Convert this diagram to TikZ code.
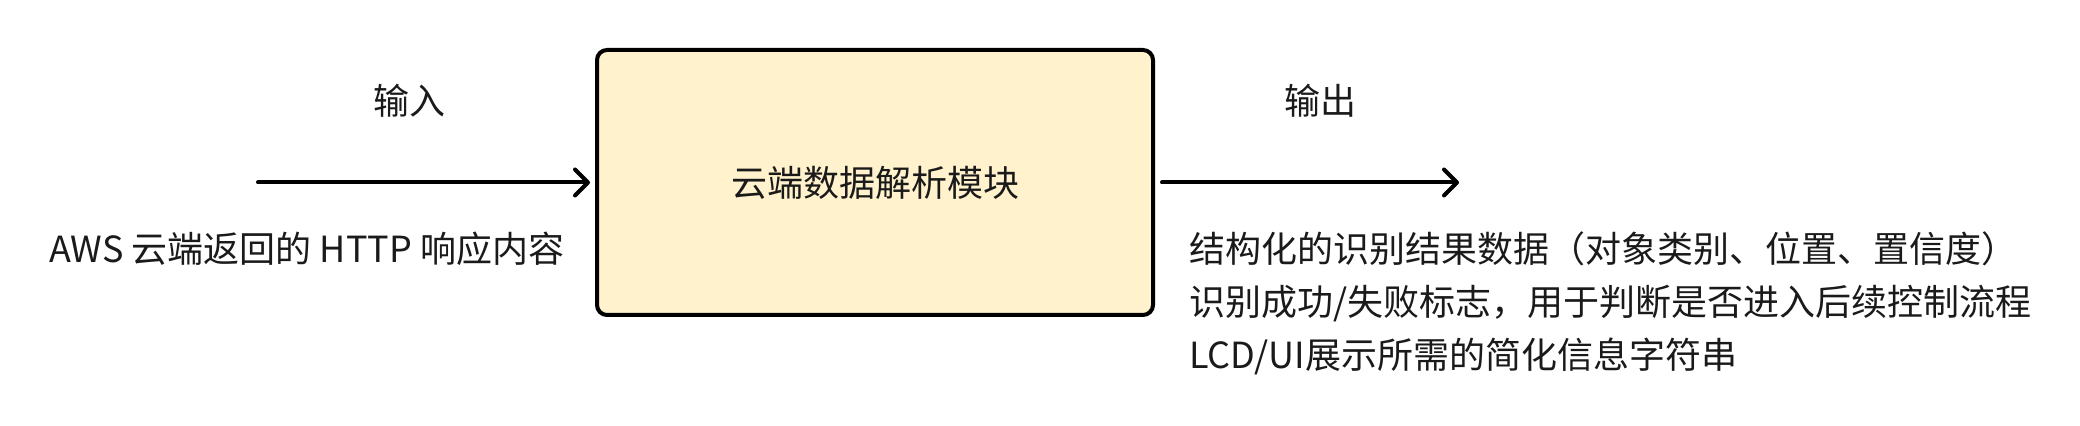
\documentclass[tikz,border=0pt]{standalone}
\usepackage{fontspec}
\setmainfont{Noto Sans CJK SC}
\usetikzlibrary{arrows.meta}
\definecolor{boxfill}{HTML}{FFF2CC}
\definecolor{ink}{HTML}{1A1A1A}
\begin{document}
\begin{tikzpicture}[x=0.5pt,y=-0.5pt,
  lbl/.style={inner sep=0pt, outer sep=0pt, font=\fontsize{18pt}{26.5pt}\selectfont, text=ink},
  module/.style={draw=black, line width=2pt, fill=boxfill, rounded corners=5pt, inner sep=0pt, outer sep=0pt,
    minimum width=278pt, minimum height=132.5pt, font=\fontsize{18pt}{22pt}\selectfont, text=ink},
  flow/.style={draw=black, line width=2pt, line cap=round,
    -{Straight Barb[length=6.5pt,width=13pt,line cap=round,line join=round]}}
]
\useasboundingbox (0,0) rectangle (2080,426);
\node[module] (mod) at (875,182.5) {\raisebox{-1.75pt}{云端数据解析模块}};
\coordinate (inStart) at (258,182.5);
\coordinate (outEnd) at (1459,182.5);
\draw[flow, shorten >=3.5pt] (inStart) -- (mod.west);
\draw[flow, shorten <=4.5pt] (mod.east) -- (outEnd);
\node[lbl, anchor=base] (inLbl) at (409,115) {输入};
\node[lbl, anchor=base] (outLbl) at (1320,115) {输出};
\node[lbl, anchor=base west] (inDesc) at (49,263) {AWS 云端返回的 HTTP 响应内容};
\node[lbl, anchor=base west] (outA) at (1189,263) {结构化的识别结果数据（对象类别、位置、置信度）};
\node[lbl, anchor=base west] (outB) at (1189,316) {识别成功/失败标志，用于判断是否进入后续控制流程};
\node[lbl, anchor=base west] (outC) at (1189,369) {LCD/UI展示所需的简化信息字符串};
\end{tikzpicture}
\end{document}
